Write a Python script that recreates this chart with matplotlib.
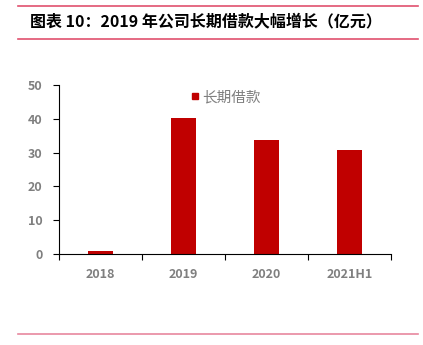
import matplotlib.pyplot as plt
from matplotlib.lines import Line2D
import numpy as np

plt.rcParams['font.family'] = ['Noto Sans CJK SC', 'DejaVu Sans']

# 长期借款（亿元）
years = ["2018", "2019", "2020", "2021H1"]
loans = [0.8, 40.2, 33.7, 30.8]
y_ticks = [0, 10, 20, 30, 40, 50]

bar_color = "#C00000"
text_gray = "#7F7F7F"
rule_color = "#E0506E"

fig = plt.figure(figsize=(4.23, 3.45), dpi=100)
ax = fig.add_axes([0.1395, 0.2638, 0.7848, 0.4898])

x = np.arange(len(years))
ax.bar(x, loans, width=0.31, color=bar_color, zorder=2)

ax.set_xlim(-0.5, len(years) - 0.5)
ax.set_ylim(0, 50)
ax.set_yticks(y_ticks)
ax.set_yticklabels([str(v) for v in y_ticks], color=text_gray,
                   fontsize=9, fontweight='bold')
ax.set_xticks(x)
ax.set_xticklabels(years, color=text_gray, fontsize=9, fontweight='bold')
ax.tick_params(axis='x', length=0, pad=10)
ax.tick_params(axis='y', length=4, width=0.8, pad=8)
# category boundary ticks on the x axis
ax.set_xticks(np.arange(-0.5, len(years)), minor=True)
ax.tick_params(axis='x', which='minor', length=4, width=0.8)

for side in ('top', 'right'):
    ax.spines[side].set_visible(False)
for side in ('left', 'bottom'):
    ax.spines[side].set_linewidth(0.8)

handle = Line2D([], [], marker='s', linestyle='none', markersize=5,
                color=bar_color)
leg = ax.legend([handle], ["长期借款"], loc='upper center',
                bbox_to_anchor=(0.5, 1.045), frameon=False,
                handletextpad=0.05, handlelength=0.8, fontsize=10.5)
for t in leg.get_texts():
    t.set_color(text_gray)

# header and footer rules
fig.add_artist(Line2D([0.043, 0.988], [0.983, 0.983], color=rule_color, lw=1.2))
fig.add_artist(Line2D([0.043, 0.988], [0.887, 0.887], color=rule_color, lw=1.2))
fig.add_artist(Line2D([0.043, 0.988], [0.032, 0.032], color="#E8879E", lw=1.2))

fig.text(0.071, 0.937, "图表 10：2019 年公司长期借款大幅增长（亿元）",
         fontsize=11.5, fontweight='bold', style='italic',
         va='center', ha='left', color='black')

fig.savefig("out.png", dpi=100)
